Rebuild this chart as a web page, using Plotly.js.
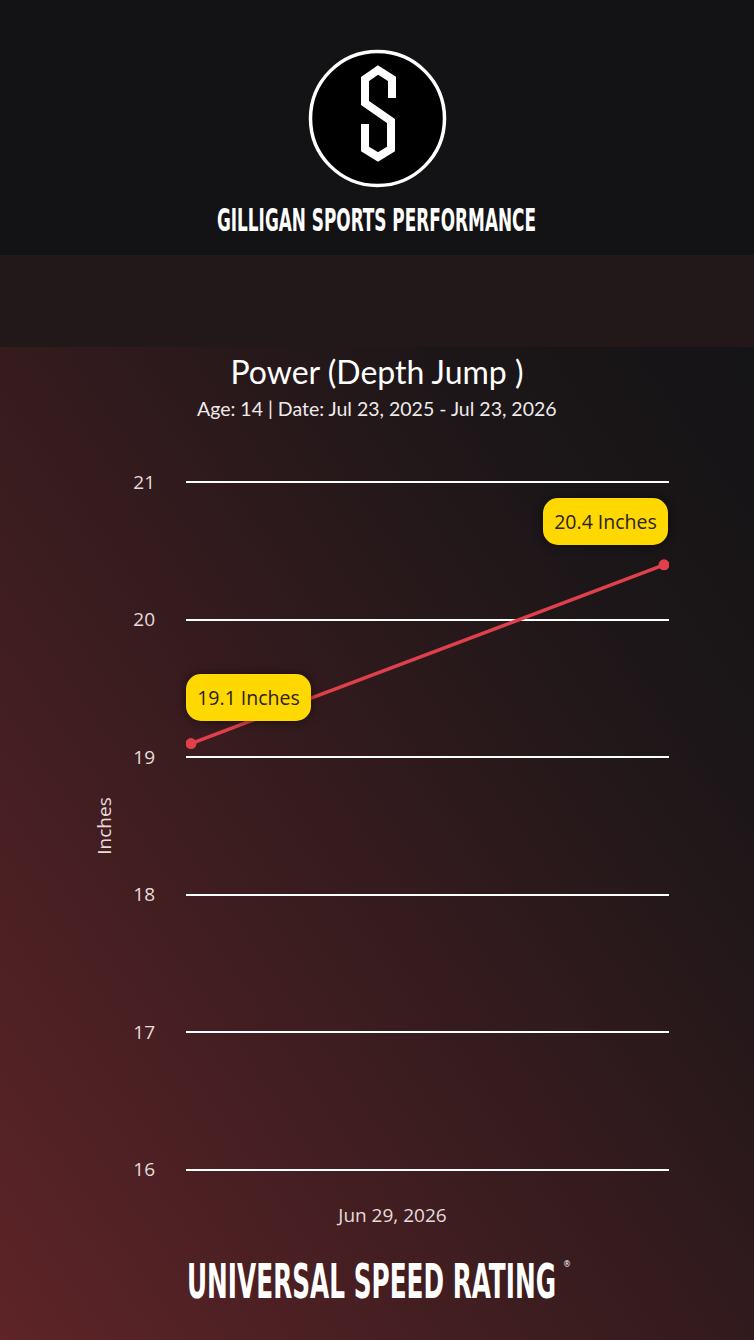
<!DOCTYPE html>
<html>
<head>
<meta charset="utf-8">
<script src="https://cdn.plot.ly/plotly-3.0.1.min.js"></script>
<style>
  html, body { margin: 0; padding: 0; width: 754px; height: 1340px; overflow: hidden; background: #131316; }
  #page { position: relative; width: 754px; height: 1340px; }
  #grad { position: absolute; left: 0; top: 255px; width: 754px; height: 1085px;
          background: linear-gradient(to top right, #5e2427 0%, #3a1c1f 40%, #1c1618 75%, #131316 100%); }
  #header { position: absolute; left: 0; top: 0; width: 754px; height: 255px; background: #131316; }
  #band { position: absolute; left: 0; top: 255px; width: 754px; height: 92px; background: #221719; }
  #chart { position: absolute; left: 0; top: 0; width: 754px; height: 1340px; }
  #deco { position: absolute; left: 0; top: 0; width: 754px; height: 1340px; pointer-events: none; }
</style>
</head>
<body>
<div id="page">
  <div id="grad"></div>
  <div id="header"></div>
  <div id="band"></div>
  <div id="chart"></div>
  <svg id="deco" width="754" height="1340" xmlns="http://www.w3.org/2000/svg">
    <circle cx="377.5" cy="118.5" r="67" fill="#000" stroke="#fff" stroke-width="3.5"/>
    <path d="M 392,98 L 392,79 L 378,70 L 365,79 L 365,103 L 391,121 L 391,149 L 378,157 L 365,149 L 365,124"
          fill="none" stroke="#fff" stroke-width="8" stroke-linejoin="miter" stroke-miterlimit="4"/>
    <g transform="translate(217,231) scale(1,1.35)">
      <text x="0" y="0" font-family="DejaVu Sans Condensed, DejaVu Sans" font-weight="bold" font-size="24"
            fill="#fff" textLength="319" lengthAdjust="spacingAndGlyphs">GILLIGAN SPORTS PERFORMANCE</text>
    </g>
    <g transform="translate(187,1298) scale(1,1.7)">
      <text x="0" y="0" font-family="DejaVu Sans Condensed, DejaVu Sans" font-weight="bold" font-size="28"
            fill="#fff" textLength="369" lengthAdjust="spacingAndGlyphs">UNIVERSAL SPEED RATING</text>
    </g>
    <text x="563" y="1267" font-family="DejaVu Sans" font-size="8" fill="#fff">®</text>
  </svg>
</div>
<script>
// ---- data ----
const dates = ['2026-06-28 08:40', '2026-06-29 20:40'];
const values = [19.1, 20.4];
const valueUnit = 'Inches';
const yTickVals = [16, 17, 18, 19, 20, 21];
const xTickVals = ['2026-06-29'];
const xTickText = ['Jun 29, 2026'];
const chartTitle = 'Power (Depth Jump )';
const chartSubtitle = 'Age: 14 | Date: Jul 23, 2025 - Jul 23, 2026';

// ---- build ----
const t0 = new Date(dates[0].replace(' ', 'T')).getTime();
const t1 = new Date(dates[dates.length - 1].replace(' ', 'T')).getTime();
const pad = (t1 - t0) * 5 / 474;
function fmt(ms) {
  const d = new Date(ms);
  const p = n => String(n).padStart(2, '0');
  return d.getFullYear() + '-' + p(d.getMonth() + 1) + '-' + p(d.getDate()) + ' ' + p(d.getHours()) + ':' + p(d.getMinutes()) + ':' + p(d.getSeconds());
}

const trace = {
  x: dates, y: values, type: 'scatter', mode: 'lines+markers',
  line: { color: '#e0404b', width: 3.5 },
  marker: { color: '#e0404b', size: 11 },
  hoverinfo: 'skip'
};

const shifts = [[58, 46], [-59, 43]];
const annotations = values.map((v, i) => ({
  x: dates[i], y: v, xref: 'x', yref: 'y',
  text: v.toFixed(1) + ' ' + valueUnit,
  showarrow: false, xshift: shifts[i][0], yshift: shifts[i][1],
  xanchor: 'center', yanchor: 'middle',
  bgcolor: '#ffd800', borderpad: 0, borderwidth: 0,
  width: 125, height: 47,
  font: { family: 'Open Sans', size: 19.5, color: '#2a2222' }
}));

// subtitle placed as a paper annotation just below the title
const plotLeft = 186, plotRight = 669, plotTop = 481, plotBottom = 1171;
annotations.push({
  text: chartSubtitle, xref: 'paper', yref: 'paper',
  x: (377 - plotLeft) / (plotRight - plotLeft), y: (plotBottom - 409) / (plotBottom - plotTop),
  xanchor: 'center', yanchor: 'middle', showarrow: false,
  font: { family: 'Lato', size: 19.5, color: '#f0eaea' }
});

const tickFont = { family: 'Open Sans', size: 19, color: '#e6dcdc' };

const layout = {
  width: 754, height: 1340,
  paper_bgcolor: 'rgba(0,0,0,0)', plot_bgcolor: 'rgba(0,0,0,0)',
  margin: { l: plotLeft, r: 754 - plotRight, t: plotTop, b: 1340 - plotBottom, pad: 0 },
  showlegend: false,
  title: {
    text: chartTitle,
    font: { family: 'Lato', size: 32, color: '#ffffff' },
    x: 0.5, xref: 'container', xanchor: 'center',
    y: 1 - 373 / 1340, yref: 'container', yanchor: 'middle'
  },
  xaxis: {
    type: 'date', range: [fmt(t0 - pad), fmt(t1 + pad)],
    tickvals: xTickVals, ticktext: xTickText,
    showgrid: false, zeroline: false, showline: false, ticks: '',
    ticklabelstandoff: 31,
    tickfont: tickFont
  },
  yaxis: {
    range: [15.99, 21.01], tickvals: yTickVals,
    showgrid: true, gridcolor: '#ffffff', gridwidth: 2,
    zeroline: false, showline: false, ticks: '',
    ticklabelstandoff: 30,
    tickfont: tickFont,
    title: { text: valueUnit, standoff: 16, font: tickFont }
  },
  annotations: annotations
};

Plotly.newPlot('chart', [trace], layout, { displayModeBar: false, staticPlot: true }).then(gd => {
  gd.querySelectorAll('.annotation rect.bg').forEach(r => {
    const f = (r.style.fill || '') + (r.getAttribute('style') || '');
    if (f.indexOf('255, 216, 0') >= 0) {
      r.setAttribute('rx', 15); r.setAttribute('ry', 15);
      r.style.filter = 'drop-shadow(0px 0px 5px rgba(0,0,0,0.55))';
    }
  });
});
</script>
</body>
</html>
